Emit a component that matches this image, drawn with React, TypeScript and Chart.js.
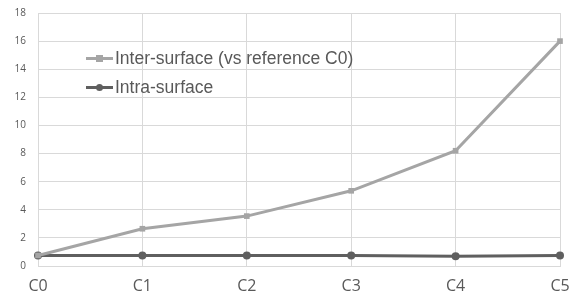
import React, { useEffect, useRef } from "react";
import { Chart, registerables } from "chart.js";

Chart.register(...registerables);

const categories = ["C0", "C1", "C2", "C3", "C4", "C5"];
const interSurface = [0.75, 2.65, 3.55, 5.35, 8.2, 16.0];
const intraSurface = [0.75, 0.75, 0.75, 0.75, 0.7, 0.75];
const seriesNames = ["Inter-surface (vs reference C0)", "Intra-surface"];
const yMax = 18;
const yStep = 2;

export default function App() {
  const ref = useRef<HTMLCanvasElement | null>(null);
  useEffect(() => {
    document.body.style.margin = "0";
    if (!ref.current) return;
    const chart = new Chart(ref.current, {
      type: "line",
      data: {
        labels: categories,
        datasets: [
          {
            label: seriesNames[0],
            data: interSurface,
            borderColor: "#A5A5A5",
            backgroundColor: "#A5A5A5",
            borderWidth: 3,
            pointStyle: "rect",
            pointRadius: 4,
            pointBorderWidth: 0,
            tension: 0,
          },
          {
            label: seriesNames[1],
            data: intraSurface,
            borderColor: "#5F5F5F",
            backgroundColor: "#5F5F5F",
            borderWidth: 3,
            pointStyle: "circle",
            pointRadius: 4,
            pointBorderWidth: 0,
            tension: 0,
          },
        ],
      },
      options: {
        animation: false,
        responsive: true,
        maintainAspectRatio: false,
        layout: { padding: { top: 13, right: 15, left: 0, bottom: 0 } },
        plugins: { legend: { display: false }, tooltip: { enabled: false } },
        scales: {
          x: {
            offset: false,
            grid: { color: "#D9D9D9", drawTicks: false },
            border: { color: "#D9D9D9" },
            ticks: {
              color: "#595959",
              padding: 11,
              font: { family: "Open Sans", size: 16 },
            },
            afterFit: (s: any) => {
              s.height = 33;
              s.paddingLeft = 0;
              s.paddingRight = 0;
            },
          },
          y: {
            min: 0,
            max: yMax,
            grid: { color: "#D9D9D9", drawTicks: false },
            border: { display: false },
            ticks: {
              stepSize: yStep,
              color: "#595959",
              padding: 12,
              font: { family: "Open Sans", size: 10 },
            },
            afterFit: (s: any) => {
              s.width = 38;
              s.paddingTop = 0;
              s.paddingBottom = 0;
            },
          },
        },
      },
    });
    return () => chart.destroy();
  }, []);

  const legendRow = (name: string, color: string, square: boolean, top: number) => (
    <div
      style={{
        position: "absolute",
        left: 86,
        top,
        display: "flex",
        alignItems: "center",
        fontFamily: "Liberation Sans, Arial, sans-serif",
        fontSize: 17.5,
        color: "#595959",
        whiteSpace: "nowrap",
        lineHeight: "20px",
      }}
    >
      <span style={{ position: "relative", width: 27, height: 14, marginRight: 2, display: "inline-block" }}>
        <span style={{ position: "absolute", left: 0, right: 0, top: 6, height: 3, background: color }} />
        <span
          style={{
            position: "absolute",
            left: 10,
            top: 4,
            width: 7,
            height: 7,
            background: color,
            borderRadius: square ? 0 : "50%",
          }}
        />
      </span>
      {name}
    </div>
  );

  return (
    <div style={{ position: "fixed", left: 0, top: 0, width: 575, height: 299, background: "#fff" }}>
      <canvas ref={ref} />
      {legendRow(seriesNames[0], "#A5A5A5", true, 48)}
      {legendRow(seriesNames[1], "#5F5F5F", false, 77)}
    </div>
  );
}
